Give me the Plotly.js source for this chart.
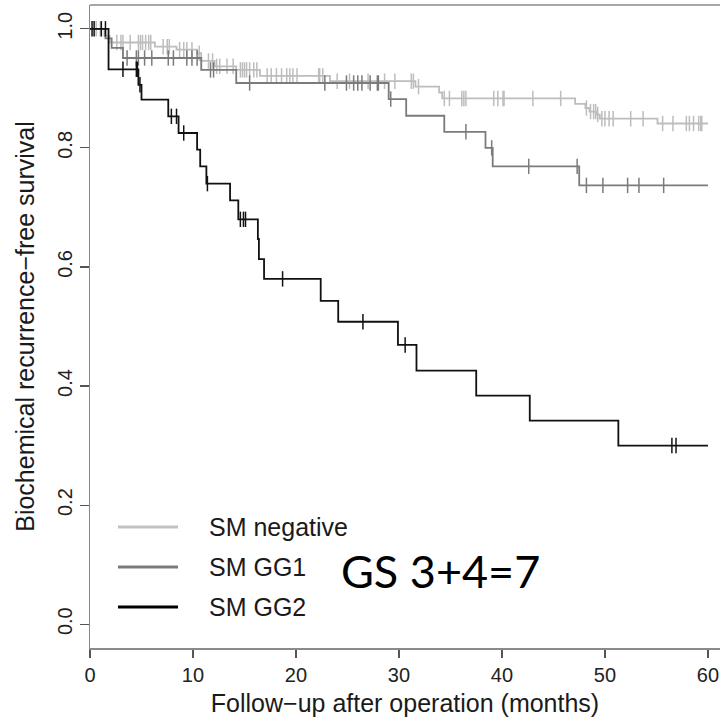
<!DOCTYPE html>
<html>
<head>
<meta charset="utf-8">
<script src="https://cdn.plot.ly/plotly-3.0.1.min.js"></script>
<style>html,body{margin:0;padding:0;background:#fff;overflow:hidden;}#chart{width:720px;height:721px;}</style>
</head>
<body>
<div id="chart"></div>
<script>
// ---- data ----
var seriesNames = ["SM negative", "SM GG1", "SM GG2"];

var negTimes = [0, 1.4, 1.9, 6.3, 8.4, 10.4, 10.8, 12.1, 14.2, 16.5, 23.3, 31.6, 33.9, 34.2, 47.1, 48.1, 48.5, 49.2, 49.5, 55.1, 60];
var negSurv  = [1.0, 0.988, 0.977, 0.970, 0.965, 0.959, 0.946, 0.937, 0.931, 0.921, 0.912, 0.903, 0.893, 0.883, 0.874, 0.867, 0.861, 0.856, 0.849, 0.841, 0.841];
var negCensor = [0.6, 1.0, 2.6, 3.0, 3.2, 3.9, 4.7, 4.9, 5.1, 5.4, 5.7, 5.9, 7.1, 7.5, 7.7, 8.7, 9.1, 9.4, 9.9, 10.6,
  11.5, 11.9, 12.3, 12.6, 13.3, 13.9, 14.6, 14.8, 15.0, 15.2, 15.5, 15.9, 16.2, 17.2, 17.6, 18.1, 18.6, 19.1, 19.4, 19.7, 20.1,
  22.2, 22.3, 22.6, 24.0, 25.2, 27.0, 28.6, 29.6, 31.2, 31.4, 31.9, 34.4, 34.9, 36.1, 36.3, 36.5, 39.2, 39.6, 40.1, 40.2, 43.0, 45.7,
  48.2, 48.6, 48.9, 49.1, 49.3, 49.7, 50.0, 50.4, 50.8, 52.5, 53.7, 55.6, 56.6, 57.9, 58.2, 58.6, 59.1, 59.3, 59.4];

var gg1Times = [0, 1.5, 2.1, 3.2, 10.8, 14.2, 29.0, 30.7, 34.4, 38.4, 39.1, 47.5, 60];
var gg1Surv  = [1.0, 0.984, 0.968, 0.951, 0.931, 0.909, 0.882, 0.854, 0.827, 0.800, 0.769, 0.737, 0.737];
var gg1Censor = [3.6, 4.5, 4.7, 5.3, 6.0, 7.6, 8.1, 9.4, 9.9, 10.4, 11.7, 12.0, 15.5, 22.8, 24.9, 25.6, 26.0, 26.4, 27.2, 27.9, 28.0,
  29.2, 36.5, 39.0, 42.6, 47.3, 48.2, 49.8, 52.2, 53.3, 55.7];

var gg2Times = [0, 1.8, 4.7, 5.0, 7.6, 8.6, 10.4, 10.7, 11.3, 13.6, 14.4, 16.3, 16.4, 16.9, 22.4, 24.1, 29.9, 31.7, 37.5, 42.7, 51.3, 60];
var gg2Surv  = [1.0, 0.932, 0.906, 0.881, 0.853, 0.825, 0.797, 0.769, 0.740, 0.712, 0.680, 0.647, 0.613, 0.580, 0.543, 0.508, 0.469, 0.426, 0.384, 0.342, 0.300, 0.300];
var gg2Censor = [0.2, 0.4, 1.1, 1.5, 3.2, 4.5, 4.6, 4.85, 7.9, 8.4, 9.1, 11.4, 14.6, 14.9, 15.1, 18.7, 26.5, 30.6, 56.5, 56.9];

var xTicks = [0, 10, 20, 30, 40, 50, 60];
var yTicks = [0.0, 0.2, 0.4, 0.6, 0.8, 1.0];
var yTickText = ["0.0", "0.2", "0.4", "0.6", "0.8", "1.0"];
var xTitle = "Follow\u2212up after operation (months)";
var yTitle = "Biochemical recurrence\u2212free survival";
var noteText = "GS 3+4=7";

// ---- styles ----
var colors = ["#bdbdbd", "#7b7b7b", "#111111"];
var legendColors = ["#c2c2c2", "#7b7b7b", "#000000"];
var txtFont = "Liberation Sans, Arial, sans-serif";

function survAt(times, surv, t) {
  var v = surv[0];
  for (var i = 0; i < times.length; i++) { if (times[i] <= t) v = surv[i]; }
  return v;
}

var sets = [[negTimes, negSurv, negCensor], [gg1Times, gg1Surv, gg1Censor], [gg2Times, gg2Surv, gg2Censor]];
var traces = [];
sets.forEach(function (s, k) {
  traces.push({
    x: s[0], y: s[1], type: "scatter", mode: "lines", name: seriesNames[k],
    line: { shape: "hv", color: colors[k], width: 1.8 }, showlegend: false, hoverinfo: "skip"
  });
  traces.push({
    x: s[2], y: s[2].map(function (t) { return survAt(s[0], s[1], t); }),
    type: "scatter", mode: "markers", name: seriesNames[k] + " censored",
    marker: { symbol: "line-ns-open", size: 11, color: colors[k], line: { color: colors[k], width: 1.5 } },
    showlegend: false, hoverinfo: "skip"
  });
});

// plot area: x 90..720 px, y 5..648 px
var shapes = [{ type: "line", xref: "paper", yref: "paper", x0: 0, x1: 1.05, y0: 1, y1: 1,
  line: { color: "#8a8a8a", width: 1.5 } }];
var annotations = [];
var legY = [0.188, 0.126, 0.0638];
seriesNames.forEach(function (n, k) {
  shapes.push({ type: "line", xref: "paper", yref: "paper", x0: 0.0444, x1: 0.1397, y0: legY[k], y1: legY[k],
    line: { color: legendColors[k], width: 3 } });
  annotations.push({ xref: "paper", yref: "paper", x: 0.1857, y: legY[k], xanchor: "left", yanchor: "middle",
    text: n, showarrow: false, font: { family: txtFont, size: 25, color: "#1a1a1a" } });
});
annotations.push({ xref: "paper", yref: "paper", x: 0.557, y: 0.12, xanchor: "center", yanchor: "middle",
  text: noteText, showarrow: false, font: { family: "Lato, Open Sans, sans-serif", size: 45, color: "#000", style: "normal", weight: 400 } });

var axFont = { family: txtFont, size: 20, color: "#222" };
var layout = {
  width: 720, height: 721,
  margin: { l: 90, r: 0, t: 5, b: 73 },
  paper_bgcolor: "#fff", plot_bgcolor: "#fff",
  showlegend: false,
  xaxis: {
    range: [0, 61.17], tickvals: xTicks, ticktext: xTicks.map(String),
    showgrid: false, zeroline: false, showline: true, mirror: false, linecolor: "#8a8a8a", linewidth: 1.5,
    ticks: "outside", ticklen: 8, tickwidth: 1.2, tickcolor: "#555",
    tickfont: axFont,
    title: { text: xTitle, font: { family: txtFont, size: 25, color: "#1a1a1a" }, standoff: 10 }
  },
  yaxis: {
    range: [-0.04, 1.04], tickvals: yTicks, ticktext: yTickText, tickangle: -90,
    showgrid: false, zeroline: false, showline: true, mirror: false, linecolor: "#8a8a8a", linewidth: 1.5,
    ticks: "outside", ticklen: 9, tickwidth: 1.2, tickcolor: "#555",
    tickfont: axFont,
    title: { text: yTitle, font: { family: txtFont, size: 25, color: "#1a1a1a" }, standoff: 12 }
  },
  shapes: shapes,
  annotations: annotations
};

Plotly.newPlot("chart", traces, layout, { staticPlot: true, displayModeBar: false });
</script>
</body>
</html>
